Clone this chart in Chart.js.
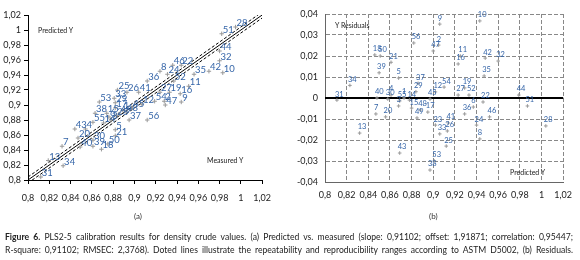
<!DOCTYPE html>
<html>
<head>
<meta charset="utf-8">
<script src="https://cdn.jsdelivr.net/npm/chart.js@4.4.1/dist/chart.umd.min.js"></script>
<style>
  body { margin:0; background:#fff; width:580px; height:260px; overflow:hidden; font-family:Lato, "DejaVu Sans", sans-serif; position:relative; }
  #chartA { position:absolute; left:0; top:0; }
  #chartB { position:absolute; left:280px; top:0; }
  .note { position:absolute; font-size:7px; line-height:8px; color:#222; white-space:nowrap; }
  .panel { position:absolute; font-size:8px; line-height:9px; color:#333; }
  .cap { position:absolute; left:5px; width:568px; font-size:8.6px; line-height:10px; color:#222;
         text-align:justify; text-align-last:justify; white-space:nowrap; }
</style>
</head>
<body>
<canvas id="chartA" width="280" height="225"></canvas>
<canvas id="chartB" width="300" height="225"></canvas>

<div class="note" style="left:38px;top:26px">Predicted Y</div>
<div class="note" style="left:207px;top:156px">Measured Y</div>
<div class="note" style="left:335px;top:21px">Y Residuals</div>
<div class="note" style="left:510px;top:168px">Predicted Y</div>
<div class="panel" style="left:134px;top:212px">(a)</div>
<div class="panel" style="left:429px;top:212px">(b)</div>

<div class="cap" style="top:232px"><b>Figure 6.</b> PLS2-5 calibration results for density crude values. (a) Predicted vs. measured (slope: 0,91102; offset: 1,91871; correlation: 0,95447;</div>
<div class="cap" style="top:245px">R-square: 0,91102; RMSEC: 2,3768). Doted lines illustrate the repeatability and reproducibility ranges according to ASTM D5002, (b) Residuals.</div>

<script>
// --- (a) predicted vs measured ---
const idsA = [28,51,44,32,42,10,35,46,22,8, 24,36,52,11,27,19,16,9,54,2,
              47,12,41,26,25,33,29,53,17,45, 38,15,49,48,37,56,55,14,3,5,
              21,50,30,40,39,18,20,43,4,7, 13,34,31,1,6,23];
const measuredA = [0.995,0.982,0.980,0.980,0.970,0.983,0.956,0.936,0.944,0.924,
                   0.931,0.912,0.937,0.951,0.924,0.933,0.943,0.944,0.919,0.928,
                   0.929,0.907,0.904,0.893,0.884,0.881,0.882,0.867,0.882,0.898,
                   0.863,0.874,0.886,0.892,0.895,0.912,0.861,0.871,0.878,0.882,
                   0.882,0.875,0.861,0.849,0.861,0.869,0.847,0.844,0.854,0.832,
                   0.819,0.833,0.812,0.889,0.876,0.883];
const predictedA = [1.004,0.995,0.972,0.959,0.945,0.943,0.941,0.953,0.953,0.945,
                    0.941,0.932,0.932,0.925,0.917,0.917,0.915,0.904,0.905,0.905,
                    0.900,0.901,0.917,0.917,0.920,0.909,0.903,0.904,0.896,0.896,
                    0.889,0.889,0.888,0.891,0.880,0.880,0.877,0.876,0.880,0.867,
                    0.859,0.848,0.853,0.844,0.845,0.841,0.856,0.868,0.868,0.845,
                    0.826,0.819,0.804,0.893,0.884,0.886];
const ticksA = [0.8,0.82,0.84,0.86,0.88,0.9,0.92,0.94,0.96,0.98,1,1.02];
const rangeA = [0.8, 1.02];
const repeatA = 0.004;   // half width of the dotted band

// --- (b) residuals vs predicted ---
const idsB = [31,34,18,50,21,39,5,37,29,40, 30,4,1,55,3,7,20,13,43,54,
              12,27,19,52,45,22,44,51,6,36, 46,24,8,41,23,33,26,25,53,38,
              28,14,48,17,15,49,9,10,2,47, 11,16,42,32,35,56];
const predictedB = [0.811,0.823,0.846,0.851,0.861,0.850,0.868,0.886,0.884,0.848,
                    0.858,0.861,0.873,0.869,0.868,0.847,0.856,0.832,0.869,0.910,
                    0.902,0.923,0.929,0.933,0.897,0.946,0.979,0.987,0.937,0.929,
                    0.952,0.940,0.943,0.914,0.902,0.906,0.913,0.912,0.901,0.897,
                    1.004,0.878,0.888,0.895,0.880,0.885,0.906,0.943,0.905,0.900,
                    0.925,0.923,0.948,0.960,0.947,0.882];
const residualB = [-0.001,0.006,0.0205,0.020,0.017,0.012,0.0095,0.007,0.003,0.000,
                   -0.0005,0.0014,0.000,-0.0014,-0.0038,-0.0076,-0.009,-0.0167,-0.0262,0.0052,
                   0.0029,0.0014,0.0048,0.0014,-0.0005,-0.0019,0.0014,-0.0038,-0.0043,-0.0076,
                   -0.009,-0.0129,-0.0195,-0.0119,-0.0129,-0.0171,-0.0157,-0.0229,-0.030,-0.0343,
                   -0.0133,-0.001,-0.0057,-0.0067,-0.0048,-0.0095,0.0352,0.0367,0.0252,0.0224,
                   0.020,0.0162,0.019,0.0176,0.0105,0.0262];
const ticksBx = [0.8,0.82,0.84,0.86,0.88,0.9,0.92,0.94,0.96,0.98,1,1.02];
const ticksBy = [-0.04,-0.03,-0.02,-0.01,0,0.01,0.02,0.03,0.04];

const FONT = 'Lato, "DejaVu Sans", sans-serif';
const fmt = v => String(Math.round(v * 100000) / 100000).replace('.', ',');

// sample numbers beside each point
const pointLabels = {
  id: 'pointLabels',
  afterDatasetsDraw(chart, args, opts) {
    const ctx = chart.ctx;
    chart.data.datasets.forEach((ds, i) => {
      if (!ds.ids) return;
      const meta = chart.getDatasetMeta(i);
      ctx.save();
      ctx.font = opts.size + 'px ' + FONT;
      ctx.fillStyle = '#3565a8';
      ctx.textAlign = 'left';
      ctx.textBaseline = 'middle';
      meta.data.forEach((pt, j) => {
        ctx.fillText(ds.ids[j], pt.x + opts.dx, pt.y + opts.dy);
      });
      ctx.restore();
    });
  }
};

// solid zero line on the residual plot
const zeroLine = {
  id: 'zeroLine',
  beforeDatasetsDraw(chart, args, opts) {
    if (!opts.on) return;
    const {ctx, chartArea, scales} = chart;
    const y = scales.y.getPixelForValue(0);
    ctx.save();
    ctx.strokeStyle = '#000';
    ctx.lineWidth = 2;
    ctx.beginPath();
    ctx.moveTo(chartArea.left, y);
    ctx.lineTo(chartArea.right, y);
    ctx.stroke();
    ctx.restore();
  }
};

Chart.register(pointLabels, zeroLine);

const setTicks = arr => scale => { scale.ticks = arr.map(v => ({value: v})); };

// chart (a)
new Chart(document.getElementById('chartA'), {
  type: 'scatter',
  data: {
    datasets: [
      {
        data: measuredA.map((x, i) => ({x, y: predictedA[i]})),
        ids: idsA,
        pointStyle: 'cross', pointRadius: 2.2, borderColor: '#999', borderWidth: 1
      },
      { type: 'line', data: rangeA.map(v => ({x: v, y: v})),
        borderColor: '#000', borderWidth: 1, pointRadius: 0 },
      { type: 'line', data: rangeA.map(v => ({x: v, y: v + repeatA})),
        borderColor: '#000', borderWidth: 1, borderDash: [3, 2], pointRadius: 0 },
      { type: 'line', data: rangeA.map(v => ({x: v, y: v - repeatA})),
        borderColor: '#000', borderWidth: 1, borderDash: [3, 2], pointRadius: 0 }
    ]
  },
  options: {
    responsive: false,
    animation: false,
    layout: { padding: { top: 15, right: 15, left: 0, bottom: 0 } },
    plugins: {
      legend: { display: false },
      tooltip: { enabled: false },
      pointLabels: { size: 9.5, dx: 1, dy: -4 },
      zeroLine: { on: false }
    },
    scales: {
      x: {
        type: 'linear', min: rangeA[0], max: rangeA[1],
        afterBuildTicks: setTicks(ticksA),
        afterFit: s => { s.height = 45; },
        ticks: { callback: fmt, color: '#222', padding: 9, maxRotation: 0, autoSkip: false,
                 font: { family: FONT, size: 9 } },
        grid: { drawOnChartArea: false, drawTicks: true, tickLength: 4, color: '#000' },
        border: { color: '#000', width: 1 }
      },
      y: {
        type: 'linear', min: rangeA[0], max: rangeA[1],
        afterBuildTicks: setTicks(ticksA),
        afterFit: s => { s.width = 28; },
        ticks: { callback: fmt, color: '#222', padding: 3, autoSkip: false,
                 font: { family: FONT, size: 9 } },
        grid: { drawOnChartArea: false, drawTicks: true, tickLength: 4, color: '#000' },
        border: { color: '#000', width: 1 }
      }
    }
  }
});

// chart (b)
new Chart(document.getElementById('chartB'), {
  type: 'scatter',
  data: {
    datasets: [{
      data: predictedB.map((x, i) => ({x, y: residualB[i]})),
      ids: idsB,
      pointStyle: 'cross', pointRadius: 1.8, borderColor: '#999', borderWidth: 1
    }]
  },
  options: {
    responsive: false,
    animation: false,
    layout: { padding: { top: 14, right: 12, left: 0, bottom: 0 } },
    plugins: {
      legend: { display: false },
      tooltip: { enabled: false },
      pointLabels: { size: 7.5, dx: -2, dy: -6 },
      zeroLine: { on: true }
    },
    scales: {
      x: {
        type: 'linear', min: 0.8, max: 1.02,
        afterBuildTicks: setTicks(ticksBx),
        afterFit: s => { s.height = 43; },
        ticks: { callback: fmt, color: '#222', padding: 8, maxRotation: 0, autoSkip: false,
                 font: { family: FONT, size: 9 } },
        grid: { drawTicks: false, color: '#888', lineWidth: 1 },
        border: { color: '#666', width: 1, dash: [4, 2] }
      },
      y: {
        type: 'linear', min: -0.04, max: 0.04,
        afterBuildTicks: setTicks(ticksBy),
        afterFit: s => { s.width = 45; },
        ticks: { callback: fmt, color: '#222', padding: 7, autoSkip: false,
                 font: { family: FONT, size: 9 } },
        grid: { drawTicks: false, color: '#888', lineWidth: 1 },
        border: { color: '#666', width: 1, dash: [4, 2] }
      }
    }
  }
});
</script>
</body>
</html>
